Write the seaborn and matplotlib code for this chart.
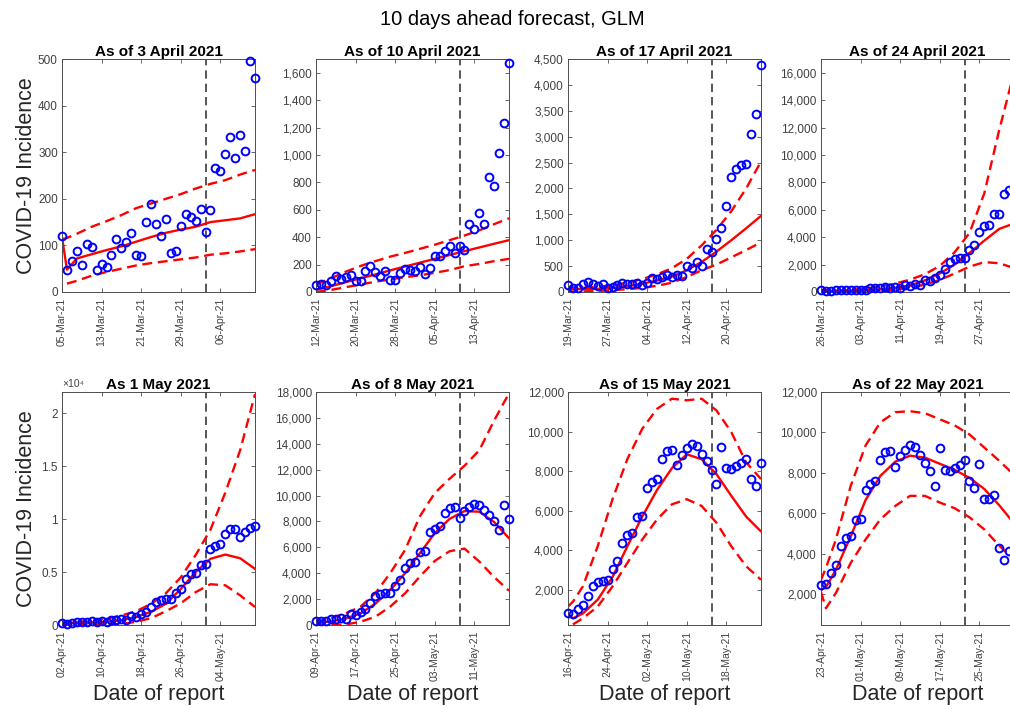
import numpy as np
import pandas as pd
import matplotlib
matplotlib.use("Agg")
import matplotlib.pyplot as plt
import matplotlib.dates as mdates
from matplotlib.ticker import FuncFormatter, MultipleLocator
import seaborn as sns

sns.set_theme(style="white")
plt.rcParams["font.family"] = ["Liberation Sans", "DejaVu Sans"]

# Daily reported COVID-19 incidence, starting 5 March 2021
first_report = "2021-03-05"
incidence = [
    120, 48, 67, 89, 59, 104, 97, 48, 61, 53,
    80, 114, 94, 107, 126, 80, 77, 150, 189, 145,
    120, 156, 84, 89, 141, 167, 162, 152, 179, 129,
    176, 266, 260, 297, 332, 288, 336, 303, 496, 460,
    579, 493, 840, 770, 1015, 1230, 1670,
    2215, 2375, 2460, 2480, 3045, 3440, 4380,
    4780, 4870, 5660, 5725, 7160, 7430, 7610,
    8630, 9040, 9080, 8300, 8810, 9150, 9370,
    9260, 8860, 8500, 8070, 7330, 9240, 8160,
    8100, 8245, 8410, 8630, 7620, 7265, 8420,
    6690, 6700, 6880, 4300, 3700, 4150,
]

# Forecast origin of each panel
cutoff_dates = ["2021-04-03", "2021-04-10", "2021-04-17", "2021-04-24",
                "2021-05-01", "2021-05-08", "2021-05-15", "2021-05-22"]
panel_titles = ["As of 3 April 2021", "As of 10 April 2021",
                "As of 17 April 2021", "As of 24 April 2021",
                "As 1 May 2021", "As of 8 May 2021",
                "As of 15 May 2021", "As of 22 May 2021"]
y_limits = [(0, 500), (0, 1700), (0, 4500), (0, 17000),
            (0, 22000), (0, 18000), (220, 12000), (470, 12000)]
y_steps = [100, 200, 500, 2000, 5000, 2000, 2000, 2000]

# Days after the window start at which the GLM fit is given
fit_days = [0, 1, 3, 6, 9, 12, 15, 18, 21, 24, 27, 30, 33, 36, 39]
fit_mean = [
    [118, 48, 72, 81, 90, 98, 108, 118, 127, 134, 140, 150, 154, 158, 167],
    [15, 25, 42, 72, 100, 128, 158, 186, 214, 242, 270, 298, 325, 352, 378],
    [60, 55, 55, 60, 80, 110, 160, 220, 300, 420, 580, 780, 1000, 1230, 1470],
    [80, 70, 60, 80, 120, 190, 300, 480, 850, 1350, 2000, 2850, 3750, 4600, 5000],
    [200, 200, 200, 230, 300, 450, 750, 1250, 2000, 3400, 5000, 6250, 6650, 6300, 5300],
    [200, 200, 260, 500, 900, 1650, 2700, 4000, 5550, 7100, 8200, 8800, 8750, 7950, 6700],
    [750, 560, 800, 1500, 2650, 4200, 5700, 7050, 8150, 8850, 8600, 7850, 6750, 5700, 4950],
    [2200, 2350, 3200, 4850, 6650, 7850, 8550, 8850, 8750, 8450, 8150, 7750, 7200, 6400, 5500],
]
fit_lower = [
    [np.nan, 18, 24, 35, 43, 50, 57, 62, 66, 70, 74, 80, 83, 87, 92],
    [0, 5, 15, 35, 55, 75, 92, 108, 122, 140, 160, 188, 205, 225, 242],
    [10, 10, 10, 20, 35, 55, 80, 120, 180, 290, 420, 530, 670, 810, 960],
    [30, 30, 30, 40, 60, 100, 160, 300, 540, 880, 1350, 1850, 2180, 2100, 1750],
    [100, 100, 80, 60, 70, 100, 300, 650, 1300, 2050, 3100, 3850, 3750, 2800, 1700],
    [80, 40, 0, 40, 250, 640, 1420, 2450, 3750, 4950, 5700, 5900, 4900, 3700, 2650],
    [np.nan, 250, 560, 1150, 2170, 3360, 4540, 5560, 6320, 6580, 6240, 5390, 4200, 3190, 2510],
    [2100, 1300, 2050, 3540, 4700, 5700, 6360, 6860, 6860, 6530, 6250, 5800, 5200, 4400, 3700],
]
fit_upper = [
    [113, 116, 125, 140, 152, 165, 180, 190, 200, 210, 222, 232, 240, 252, 262],
    [55, 70, 100, 148, 190, 225, 258, 285, 315, 345, 378, 412, 450, 495, 538],
    [90, 85, 80, 100, 130, 180, 250, 340, 460, 640, 900, 1200, 1560, 2000, 2520],
    [150, 130, 100, 150, 250, 400, 620, 900, 1300, 1900, 2900, 4300, 7200, 11800, 16000],
    [300, 300, 300, 400, 600, 900, 1300, 2000, 3000, 4500, 6600, 9000, 12500, 16500, 21800],
    [300, 350, 520, 900, 1420, 2460, 4000, 5800, 8400, 10200, 11300, 12300, 13500, 15800, 17900],
    [1150, 1400, 2170, 4200, 6580, 8610, 10140, 11150, 11660, 11580, 11660, 11070, 9970, 8440, 7600],
    [2700, 3300, 4700, 7350, 9350, 10500, 11000, 11050, 10950, 10650, 10350, 9900, 9250, 8600, 7900],
]

observed = pd.DataFrame({
    "date": pd.date_range(first_report, periods=len(incidence), freq="D"),
    "cases": incidence,
})

fig = plt.figure(figsize=(10.1, 7.09), dpi=100)
fig.text(0.507, 1 - 25 / 709, "10 days ahead forecast, GLM",
         ha="center", va="baseline", fontsize=14.5, color="black")

col_left = [62 / 1010, 316 / 1010, 568 / 1010, 821 / 1010]
row_bottom = [1 - 292 / 709, 1 - 625 / 709]
ax_w, ax_h = 193 / 1010, 233 / 709

comma_fmt = FuncFormatter(lambda v, p: f"{v:,.0f}")
e4_fmt = FuncFormatter(lambda v, p: f"{v / 1e4:g}")

red_dash = (0, (4.2, 2.4))

for i in range(8):
    row, col = divmod(i, 4)
    ax = fig.add_axes([col_left[col], row_bottom[row], ax_w, ax_h])

    cutoff = pd.Timestamp(cutoff_dates[i])
    start = cutoff - pd.Timedelta(days=29)
    end = cutoff + pd.Timedelta(days=10)
    window = observed[(observed["date"] >= start) & (observed["date"] <= end)]

    fit = pd.DataFrame({
        "date": start + pd.to_timedelta(fit_days, unit="D"),
        "mean": fit_mean[i],
        "lower": fit_lower[i],
        "upper": fit_upper[i],
    })

    for col_name, style in [("upper", red_dash), ("lower", red_dash), ("mean", "-")]:
        part = fit[["date", col_name]].dropna()
        sns.lineplot(data=part, x="date", y=col_name, ax=ax, color="#ff0000",
                     linewidth=1.7, linestyle=style, errorbar=None, zorder=2)

    ax.axvline(cutoff, color="#3a3a3a", linewidth=1.2,
               linestyle=(0, (5, 3)), zorder=1)

    sns.lineplot(data=window, x="date", y="cases", ax=ax, errorbar=None,
                 marker="o", linestyle="none", markersize=5.6,
                 markerfacecolor="none", markeredgecolor="#0000ff",
                 markeredgewidth=1.4, clip_on=False, zorder=3)

    ax.set_xlim(start, end)
    ax.set_xticks(pd.date_range(start, periods=5, freq="8D"))
    ax.xaxis.set_major_formatter(mdates.DateFormatter("%d-%b-%y"))

    ax.set_ylim(*y_limits[i])
    ax.yaxis.set_major_locator(MultipleLocator(y_steps[i]))
    ax.yaxis.set_major_formatter(e4_fmt if i == 4 else comma_fmt)
    if i == 4:
        ax.text(0.0, 1.012, "×10⁴", transform=ax.transAxes, ha="left",
                va="bottom", fontsize=7.5, color="#404040")

    ax.tick_params(direction="in", length=3, width=0.6, top=True, right=True,
                   bottom=True, left=True, color="#4d4d4d",
                   labelcolor="#404040")
    ax.tick_params(axis="y", labelsize=8.5, pad=3)
    ax.tick_params(axis="x", labelsize=7.5, labelrotation=90, pad=4)
    for spine in ax.spines.values():
        spine.set_color("#4d4d4d")
        spine.set_linewidth(0.7)

    ax.set_title(panel_titles[i], fontsize=11, fontweight="bold", pad=2.5,
                 color="black")

    if col == 0:
        ax.set_ylabel("COVID-19 Incidence", fontsize=15.5, color="#262626")
        ax.yaxis.set_label_coords(-0.127, 0.5)
    else:
        ax.set_ylabel("")
    if row == 1:
        ax.set_xlabel("Date of report", fontsize=15.5, color="#262626")
        ax.xaxis.set_label_coords(0.5, -0.253)
    else:
        ax.set_xlabel("")

fig.savefig("out.png", dpi=100)
